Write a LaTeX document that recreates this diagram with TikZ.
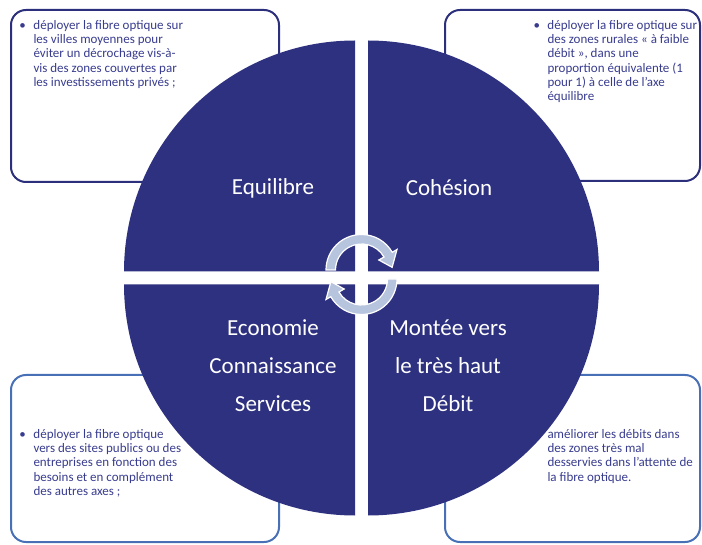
\documentclass[tikz,border=0pt]{standalone}
\usepackage{fontspec}
\setmainfont{Carlito}
\definecolor{disque}{RGB}{46,49,128}
\definecolor{bordhaut}{RGB}{44,48,124}
\definecolor{bordbas}{RGB}{72,112,182}
\definecolor{textebleu}{RGB}{56,60,142}
\definecolor{flechebleu}{RGB}{183,196,222}
\newcommand{\puce}{\makebox[14pt][l]{•}}
\newcommand{\retrait}{\hspace*{14pt}}
\begin{document}
\begin{tikzpicture}[x=1pt,y=1pt,
	cadre/.style={rounded corners=15pt,line width=2pt},
	petit/.style={anchor=base west,inner sep=0pt,align=left,text=textebleu,font=\fontsize{13}{14.3}\selectfont},
	grand/.style={text=white,align=center,font=\fontsize{23}{38}\selectfont},
	fleche/.style={fill=flechebleu,draw=white,line width=1.2pt}]
	\useasboundingbox (0,0) rectangle (702,544);
	
	% cadres
	\draw[cadre,draw=bordhaut](11,362) rectangle (279,534);
	\draw[cadre,draw=bordhaut](445,363) rectangle (700,534);
	\draw[cadre,draw=bordbas](11,2) rectangle (279,169);
	\draw[cadre,draw=bordbas](445,2) rectangle (700,169);
	
	% quarts de disque
	\fill[disque](355,272.5) -- (124,272.5) arc[start angle=180,end angle=90,radius=231] -- cycle;
	\fill[disque](368,272.5) -- (368,503.5) arc[start angle=90,end angle=0,radius=231] -- cycle;
	\fill[disque](355,259.5) -- (355,28.5) arc[start angle=270,end angle=180,radius=231] -- cycle;
	\fill[disque](368,259.5) -- (599,259.5) arc[start angle=0,end angle=-90,radius=231] -- cycle;
	
	\node[grand] (equilibre) at (273,356) {Equilibre};
	\node[grand] (cohesion) at (449,356) {Cohésion};
	\node[grand] (economie) at (273,178) {Economie\\Connaissance\\Services};
	\node[grand] (montee) at (448,178) {Montée vers\\le très haut\\Débit};
	
	% fleches du centre
	\filldraw[fleche,shift={(361.5,274)}](180:35.5) arc[start angle=180,end angle=30,radius=35.5] -- (30:41) -- (5:30.75) -- (30:20) -- (30:26) arc[start angle=30,end angle=180,radius=26] -- cycle;
	\filldraw[fleche,shift={(361.5,265)}](0:35.5) arc[start angle=0,end angle=-150,radius=35.5] -- (210:41) -- (185:30.75) -- (210:20) -- (210:26) arc[start angle=-150,end angle=0,radius=26] -- cycle;
	
	% textes des cadres (ancre sur la derniere ligne)
	\node[petit] (texteequilibre) at (19.3,457.5) {\puce déployer la fibre optique sur\\\retrait les villes moyennes pour\\\retrait éviter un décrochage vis-à-\\\retrait vis des zones couvertes par\\\retrait les investissements privés ;};
	\node[petit] (textecohesion) at (533.3,443.2) {\puce déployer la fibre optique sur\\\retrait des zones rurales « à faible\\\retrait débit », dans une\\\retrait proportion équivalente (1\\\retrait pour 1) à celle de l'axe\\\retrait équilibre};
	\node[petit] (texteeconomie) at (19.3,48.5) {\puce déployer la fibre optique\\\retrait vers des sites publics ou des\\\retrait entreprises en fonction des\\\retrait besoins et en complément\\\retrait des autres axes ;};
	\node[petit] (textemontee) at (547.3,62.8) {améliorer les débits dans\\des zones très mal\\desservies dans l'attente de\\la fibre optique.};
\end{tikzpicture}
\end{document}
